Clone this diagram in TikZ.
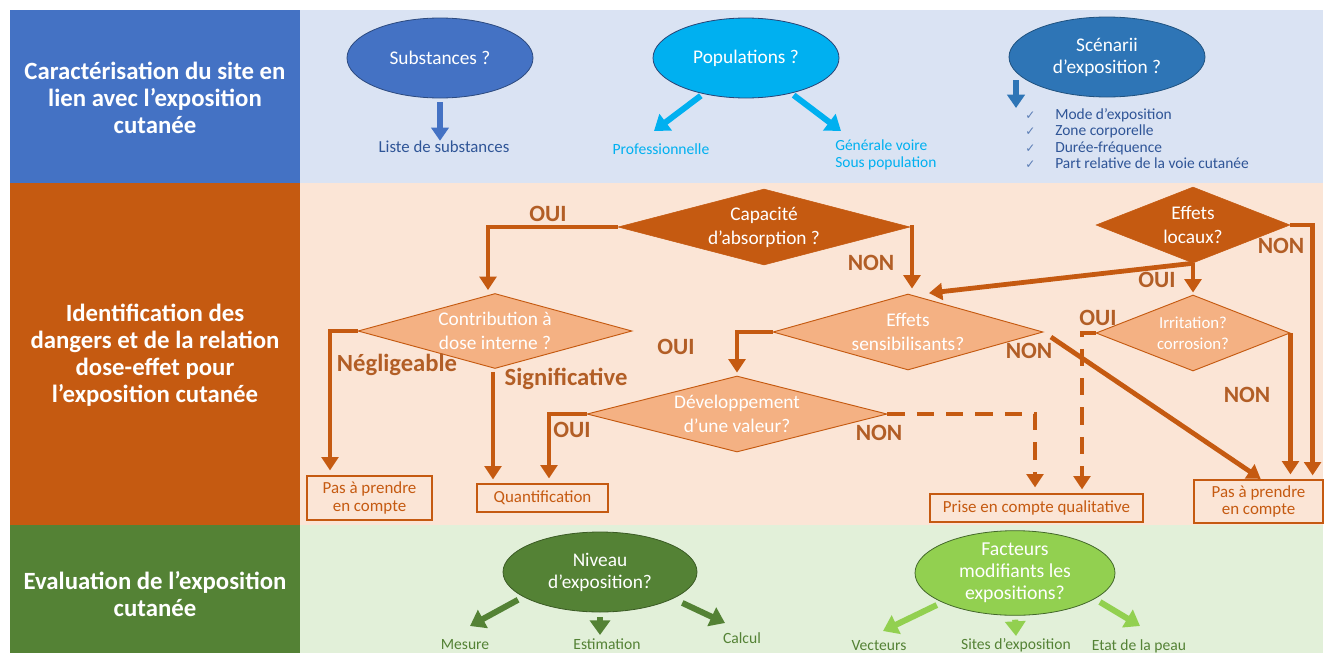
\documentclass[tikz,border=0pt]{standalone}
\usepackage{fontspec}
\setmainfont{Carlito}
\newfontfamily\symfont{DejaVu Sans}
\usetikzlibrary{shapes.geometric,arrows.meta}
\newdimen\pxu \pxu=0.75pt
\definecolor{cblue}{HTML}{4472C4}
\definecolor{cbluelight}{HTML}{DAE3F3}
\definecolor{ccyan}{HTML}{00B0F0}
\definecolor{cblue2}{HTML}{2E75B6}
\definecolor{ctextblue}{HTML}{2F5597}
\definecolor{cchk}{HTML}{5B7DB5}
\definecolor{corange}{HTML}{C55A11}
\definecolor{corangelight}{HTML}{FBE5D6}
\definecolor{cpeach}{HTML}{F4B183}
\definecolor{cgreen}{HTML}{548235}
\definecolor{cgreenlight}{HTML}{E2F0D9}
\definecolor{clime}{HTML}{92D050}
\definecolor{clabel}{HTML}{B25E26}
\begin{document}
\begin{tikzpicture}[x=0.75pt,y=-0.75pt,line join=miter,
  head/.style={text=white,font=\bfseries\fontsize{18.6}{20.2}\selectfont,align=center,inner sep=0},
  ell/.style={ellipse,inner sep=0,text=white,align=center,line width=0.6pt,font=\fontsize{14.5}{16.5}\selectfont},
  dia/.style={diamond,inner xsep=-4pt,inner ysep=-8pt,text=white,align=center,font=\fontsize{14.5}{18}\selectfont},
  dk/.style={dia,fill=corange,draw=corange},
  lt/.style={dia,fill=cpeach,draw=corange,line width=0.7pt},
  box/.style={draw=corange,line width=0.9pt,inner sep=0,text=corange,align=center,font=\fontsize{12.7}{13}\selectfont},
  lbl/.style={text=clabel,font=\bfseries\fontsize{17.5}{19}\selectfont,inner sep=0},
  small/.style={inner sep=0,align=center,font=\fontsize{11.7}{13.5}\selectfont},
  flow/.style={draw=corange,line width=3.6pt,-{Triangle[width=12.5pt,length=10pt]}},
  flowd/.style={flow,dash pattern=on 13pt off 9pt},
  toparr/.style={line width=4.5pt,-{Triangle[width=15pt,length=11pt]}}
]
\clip (0,0) rectangle (1328,653);
\fill[white] (0,0) rectangle (1328,653);
% bands
\fill[cblue] (10,10) rectangle (300,183);
\fill[cbluelight] (300,10) rectangle (1323,183);
\fill[corange] (10,183) rectangle (300,525);
\fill[corangelight] (300,183) rectangle (1323,525);
\fill[cgreen] (10,525) rectangle (300,653);
\fill[cgreenlight] (300,525) rectangle (1323,653);
% headers
\node[head] (h1) at (155,98) {Caractérisation du site en\\lien avec l’exposition\\cutanée};
\node[head] (h2) at (155,355) {Identification des\\dangers et de la relation\\dose-effet pour\\l’exposition cutanée};
\node[head] (h3) at (155,594) {Evaluation de l’exposition\\cutanée};
% top band
\node[ell,fill=cblue,draw=cblue!65!black,minimum width=186\pxu,minimum height=80\pxu] (subst) at (440,58) {Substances ?};
\node[ell,fill=ccyan,draw=cblue!60!black,minimum width=186\pxu,minimum height=80\pxu] (pop) at (746,58) {Populations ?};
\node[ell,fill=cblue2,draw=cblue2!70!black,minimum width=196\pxu,minimum height=80\pxu] (scn) at (1107,57) {Scénarii\\d’exposition ?};
\node[small,text=ctextblue,font=\fontsize{12.6}{14}\selectfont] (liste) at (444,147) {Liste de substances};
\node[small,text=ccyan] (prof) at (661,149) {Professionnelle};
\node[small,text=ccyan,anchor=west,align=left,font=\fontsize{11.6}{13.2}\selectfont] (gen) at (835,155) {Générale voire\\Sous population};
\node[anchor=north west,inner sep=0,align=left,text=ctextblue,font=\fontsize{11.6}{12.4}\selectfont] (chk) at (1025,108)
 {\makebox[30\pxu][l]{\symfont\fontsize{9}{9}\selectfont\color{cchk}✓}Mode d’exposition\\
  \makebox[30\pxu][l]{\symfont\fontsize{9}{9}\selectfont\color{cchk}✓}Zone corporelle\\
  \makebox[30\pxu][l]{\symfont\fontsize{9}{9}\selectfont\color{cchk}✓}Durée-fréquence\\
  \makebox[30\pxu][l]{\symfont\fontsize{9}{9}\selectfont\color{cchk}✓}Part relative de la voie cutanée};
\coordinate (popL) at (654,131);
\coordinate (popR) at (841,131);
\coordinate (scA) at (1016,80);
\draw[toparr,cblue,-{Triangle[width=13pt,length=10pt]},shorten <=4\pxu] (subst.south) -- (subst.south |- liste.north);
\draw[toparr,ccyan,shorten <=3\pxu] (pop.-140) -- (popL);
\draw[toparr,ccyan,shorten <=3\pxu] (pop.-38) -- (popR);
\draw[toparr,cblue2,-{Triangle[width=13pt,length=10pt]}] (scA) -- (scA |- chk.north);
% middle band
\node[dk,shape aspect=3.84,minimum width=292\pxu,minimum height=76\pxu] (cap) at (764,227) {Capacité\\d’absorption ?};
\node[dk,shape aspect=2.55,minimum width=194\pxu,minimum height=76\pxu] (loc) at (1193,225) {Effets\\locaux?};
\node[lt,shape aspect=3.65,minimum width=274\pxu,minimum height=75\pxu] (contrib) at (495,331) {Contribution à\\dose interne ?};
\node[lt,shape aspect=3.55,minimum width=270\pxu,minimum height=76\pxu] (sens) at (908,332) {Effets\\sensibilisants?};
\node[lt,shape aspect=2.55,minimum width=194\pxu,minimum height=76\pxu,font=\fontsize{12.6}{15.5}\selectfont] (irr) at (1193,333) {Irritation?\\corrosion?};
\node[lt,shape aspect=3.95,minimum width=300\pxu,minimum height=76\pxu] (dev) at (737,414) {Développement\\d’une valeur?};
\node[box,minimum width=125\pxu,minimum height=44\pxu] (pas1) at (369.5,498) {Pas à prendre\\en compte};
\node[box,minimum width=131\pxu,minimum height=28\pxu] (quant) at (542.5,498) {Quantification};
\node[box,minimum width=213\pxu,minimum height=28\pxu] (qual) at (1036.5,508) {Prise en compte qualitative};
\node[box,minimum width=129\pxu,minimum height=43\pxu] (pas2) at (1258.5,501.5) {Pas à prendre\\en compte};
% connectors
\draw[flow,shorten >=3\pxu] (cap.west) -| ([xshift=-7\pxu]contrib.north);
\draw[flow,shorten >=5\pxu] (cap.east) -| ([xshift=4\pxu]sens.north);
\draw[flow,shorten >=4\pxu] (loc.south) -- ([xshift=17\pxu]sens.north);
\draw[flow,shorten >=2\pxu] (loc.south) -- (irr.north);
\draw[flow,shorten >=4\pxu] (loc.east) -| ([xshift=-11\pxu]pas2.north east);
\draw[flow,shorten >=5\pxu] (contrib.west) -| ([xshift=-39.5\pxu]pas1.north);
\draw[flow,shorten >=4\pxu,shorten <=3\pxu] ([xshift=-2\pxu]contrib.south) -- ([xshift=-2\pxu]contrib.south |- quant.north);
\draw[flow,shorten >=3\pxu] (sens.west) -| (dev.north);
\draw[flow,shorten <=9\pxu,shorten >=1\pxu] (sens.east) -- ([xshift=3\pxu]pas2.north);
\draw[flowd,shorten >=4\pxu] (irr.west) -| ([xshift=45.5\pxu]qual.north);
\draw[flow,shorten >=5\pxu] (irr.east) -- (irr.east |- pas2.north);
\draw[flow,shorten >=5\pxu] (dev.west) -| ([xshift=6.5\pxu]quant.north);
\draw[flowd,shorten >=6\pxu] (dev.east) -| ([xshift=-1.5\pxu]qual.north);
% labels
\node[lbl] (l1) at (548,214) {OUI};
\node[lbl] (l2) at (871,263) {NON};
\node[lbl] (l3) at (1157,280) {OUI};
\node[lbl] (l4) at (1281,246) {NON};
\node[lbl,font=\bfseries\fontsize{18.5}{20}\selectfont] (l5) at (397,365) {Négligeable};
\node[lbl,font=\bfseries\fontsize{18.5}{20}\selectfont] (l6) at (566,379) {Significative};
\node[lbl] (l7) at (676,347) {OUI};
\node[lbl] (l8) at (1029,351) {NON};
\node[lbl] (l9) at (1098,318) {OUI};
\node[lbl] (l10) at (1247,395) {NON};
\node[lbl] (l11) at (572,430) {OUI};
\node[lbl] (l12) at (879,433) {NON};
% bottom band
\node[ell,fill=cgreen,draw=cgreen!70!black,minimum width=194\pxu,minimum height=80\pxu] (niv) at (600,572) {Niveau\\d’exposition?};
\node[ell,fill=clime,draw=cgreen!80!black,minimum width=200\pxu,minimum height=80\pxu,font=\fontsize{14.8}{16.5}\selectfont] (fac) at (1015,573) {Facteurs\\modifiants les\\expositions?};
\node[small,text=cgreen] (mes) at (465,645) {Mesure};
\node[small,text=cgreen] (est) at (607,644) {Estimation};
\node[small,text=cgreen] (calc) at (742,638) {Calcul};
\node[small,text=cgreen] (vec) at (879,646) {Vecteurs};
\node[small,text=cgreen] (sites) at (1016,645) {Sites d’exposition};
\node[small,text=cgreen] (etat) at (1139,646) {Etat de la peau};
\coordinate (mesA) at (470,626);
\coordinate (estA) at (600,635);
\coordinate (calA) at (725,623);
\coordinate (vecA) at (883,631);
\coordinate (sitA) at (1016,636);
\coordinate (etaA) at (1140,626);
\draw[toparr,cgreen,shorten <=6\pxu] (niv.-162) -- (mesA);
\draw[toparr,cgreen,shorten <=5\pxu] (niv.south) -- (estA);
\draw[toparr,cgreen,shorten <=10\pxu] (niv.-20) -- (calA);
\draw[toparr,clime,shorten <=6\pxu] (fac.-158) -- (vecA);
\draw[toparr,clime,shorten <=4\pxu] (fac.south) -- (sitA);
\draw[toparr,clime,shorten <=6\pxu] (fac.-18) -- (etaA);
\end{tikzpicture}
\end{document}
